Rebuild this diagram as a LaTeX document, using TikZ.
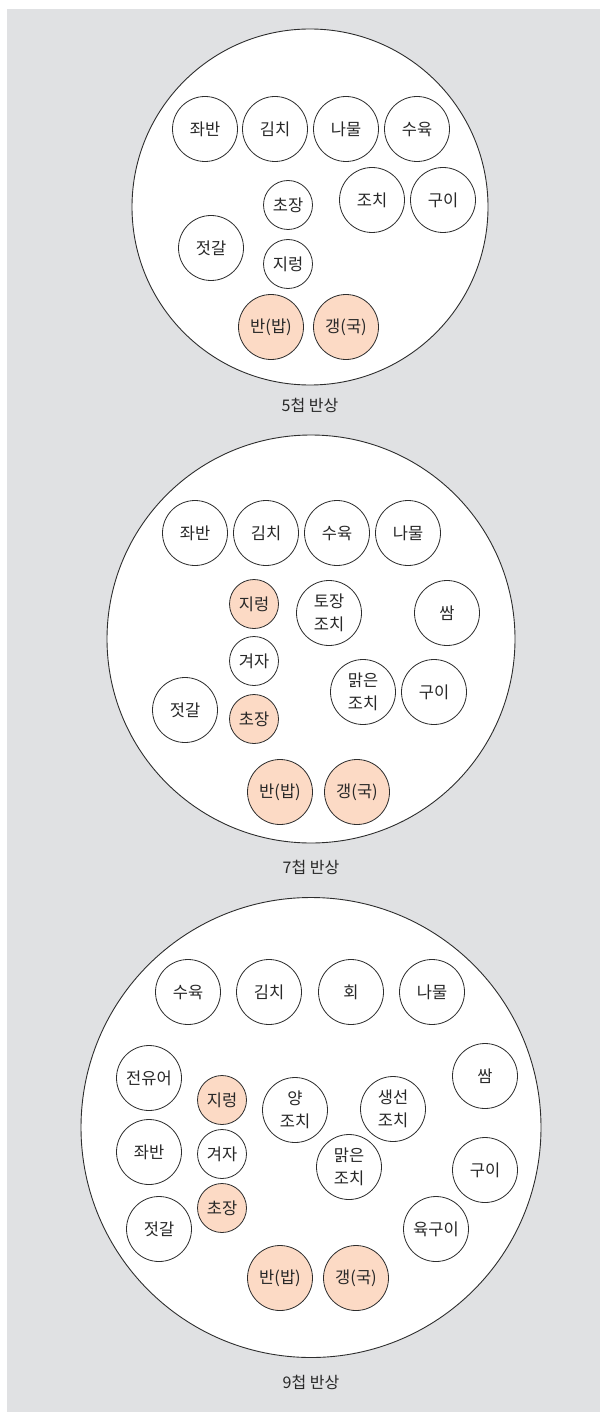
\documentclass[tikz,border=0pt]{standalone}
\usepackage{fontspec}
\setmainfont{Noto Sans CJK KR}
\definecolor{bggray}{RGB}{224,225,227}
\definecolor{peach}{RGB}{252,218,197}
\definecolor{ink}{RGB}{40,40,40}
\definecolor{edge}{RGB}{45,45,45}
\tikzset{
  plate/.style={circle, draw=edge, line width=0.9pt, fill=white, inner sep=0pt},
  dish/.style={circle, draw=edge, line width=0.8pt, fill=white, inner sep=0pt,
    minimum size=65pt, align=center, text=ink, font={\fontsize{16.5}{23.5}\selectfont}},
  smalldish/.style={dish, minimum size=49pt},
  hot/.style={fill=peach},
  caption/.style={text=ink, font={\fontsize{16}{19}\selectfont}}
}
\begin{document}
\begin{tikzpicture}[x=1pt,y=-1pt]
\useasboundingbox (0,0) rectangle (600,1412);
\fill[bggray] (7,9) rectangle (600,1412);

% ---------- 5첩 반상 ----------
\node[plate, minimum size=356pt] (p1) at (310,207) {};
\node[dish] (a1) at (205,129) {좌반};
\node[dish] (a2) at (275,129) {김치};
\node[dish] (a3) at (346,129) {나물};
\node[dish] (a4) at (417,129) {수육};
\node[dish] (a5) at (372,200) {조치};
\node[dish] (a6) at (443,200) {구이};
\node[smalldish] (a7) at (288,205) {초장};
\node[smalldish] (a8) at (288,264) {지렁};
\node[dish] (a9) at (211,248) {젓갈};
\node[dish, hot] (a10) at (271,327) {반(밥)};
\node[dish, hot] (a11) at (346,327) {갱(국)};
\node[caption] (c1) at (310,405) {5첩 반상};

% ---------- 7첩 반상 ----------
\node[plate, minimum size=408pt] (p2) at (311,639) {};
\node[dish] (b1) at (195,533) {좌반};
\node[dish] (b2) at (266,533) {김치};
\node[dish] (b3) at (337,533) {수육};
\node[dish] (b4) at (408,533) {나물};
\node[smalldish, hot] (b5) at (254,604) {지렁};
\node[smalldish] (b6) at (254,661) {겨자};
\node[smalldish, hot] (b7) at (254,719) {초장};
\node[dish] (b8) at (185,710) {젓갈};
\node[dish] (b9) at (329,613) {토장\\조치};
\node[dish] (b10) at (447,613) {쌈};
\node[dish] (b11) at (363,692) {맑은\\조치};
\node[dish] (b12) at (434,692) {구이};
\node[dish, hot] (b13) at (280,792) {반(밥)};
\node[dish, hot] (b14) at (357,792) {갱(국)};
\node[caption] (c2) at (311,867) {7첩 반상};

% ---------- 9첩 반상 ----------
\node[plate, minimum size=460pt] (p3) at (311,1127.5) {};
\node[dish] (d1) at (188,992) {수육};
\node[dish] (d2) at (269,992) {김치};
\node[dish] (d3) at (351,992) {회};
\node[dish] (d4) at (432,992) {나물};
\node[dish] (d5) at (149,1078) {전유어};
\node[smalldish, hot] (d6) at (222,1100) {지렁};
\node[dish] (d7) at (295,1110) {양\\조치};
\node[dish] (d8) at (393,1109) {생선\\조치};
\node[dish] (d9) at (485,1076) {쌈};
\node[dish] (d10) at (149,1152) {좌반};
\node[smalldish] (d11) at (222,1154) {겨자};
\node[smalldish, hot] (d12) at (222,1208) {초장};
\node[dish] (d13) at (159,1229) {젓갈};
\node[dish] (d14) at (349,1167) {맑은\\조치};
\node[dish] (d15) at (485,1170) {구이};
\node[dish] (d16) at (436,1229) {육구이};
\node[dish, hot] (d17) at (280,1278) {반(밥)};
\node[dish, hot] (d18) at (356,1278) {갱(국)};
\node[caption] (c3) at (311,1382) {9첩 반상};
\end{tikzpicture}
\end{document}
